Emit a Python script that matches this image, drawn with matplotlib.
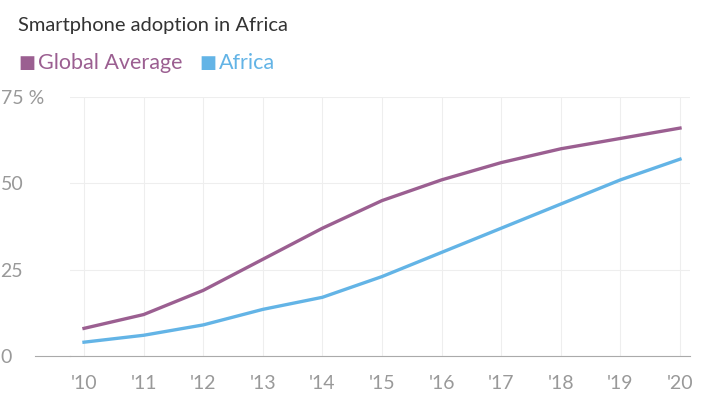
import matplotlib
matplotlib.use('Agg')
import matplotlib.pyplot as plt

# ===== data =====
years = [2010, 2011, 2012, 2013, 2014, 2015, 2016, 2017, 2018, 2019, 2020]
year_labels = ["'10", "'11", "'12", "'13", "'14", "'15", "'16", "'17", "'18", "'19", "'20"]
global_avg = [8, 12, 19, 28, 37, 45, 51, 56, 60, 63, 66]
africa = [4, 6, 9, 13.5, 17, 23, 30, 37, 44, 51, 57]

purple = '#9b5f91'
blue = '#63b4e6'
gray = '#999999'

plt.rcParams['font.family'] = ['Lato', 'DejaVu Sans']

fig = plt.figure(figsize=(7.11, 4.2), dpi=100)
ax = fig.add_axes([70 / 711, 1 - 356 / 420, 620 / 711, 259 / 420])

ax.plot(years, global_avg, color=purple, lw=2.4)
ax.plot(years, africa, color=blue, lw=2.4)

ax.set_xlim(2010 - 14 / 59.6, 2020 + 10 / 59.6)
ax.set_ylim(0, 75)
ax.set_xticks(years)
ax.set_xticklabels(year_labels)
ax.set_yticks([0, 25, 50, 75])
ax.set_yticklabels(['0', '25', '50', '75 %'], ha='left')
ax.tick_params(axis='y', length=0, pad=50, labelsize=14, labelcolor=gray)
ax.tick_params(axis='x', length=0, pad=14, labelsize=14, labelcolor=gray)

ax.grid(True, color='#eeeeee', lw=0.8)
ax.set_axisbelow(True)
for s in ['top', 'right', 'left']:
    ax.spines[s].set_visible(False)
ax.spines['bottom'].set_color('#aaaaaa')
ax.plot([-35 / 620, 0], [0, 0], transform=ax.transAxes, color='#aaaaaa',
        lw=0.8, clip_on=False)

fig.text(18 / 711, 1 - 25 / 420, 'Smartphone adoption in Africa', fontsize=14.5,
         color='#333333', va='center')
fig.text(18 / 711, 1 - 63 / 420, '■', fontsize=13, color=purple, va='center')
fig.text(38 / 711, 1 - 63 / 420, 'Global Average', fontsize=15.5, color=purple, va='center')
fig.text(199 / 711, 1 - 63 / 420, '■', fontsize=13, color=blue, va='center')
fig.text(219 / 711, 1 - 63 / 420, 'Africa', fontsize=15.5, color=blue, va='center')

fig.savefig('out.png', dpi=100)
plt.close()
